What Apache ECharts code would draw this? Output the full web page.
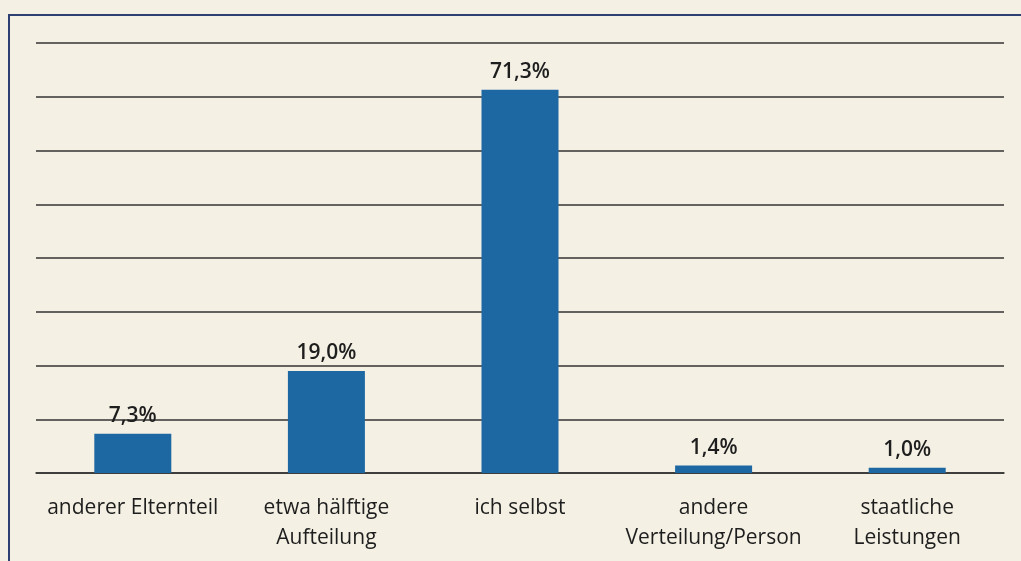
<!DOCTYPE html>
<html>
<head>
<meta charset="utf-8">
<script src="https://cdn.jsdelivr.net/npm/echarts@6/dist/echarts.min.js"></script>
<style>
html, body { margin: 0; padding: 0; background: #f4f0e4; }
#main { width: 1021px; height: 561px; }
</style>
</head>
<body>
<div id="main"></div>
<script>
var categories = ['anderer Elternteil', 'etwa hälftige\nAufteilung', 'ich selbst', 'andere\nVerteilung/Person', 'staatliche\nLeistungen'];
var values = [7.3, 19.0, 71.3, 1.4, 1.0];

var myChart = echarts.init(document.getElementById('main'));

var option = {
    backgroundColor: '#f4f0e4',
    textStyle: { fontFamily: 'Open Sans' },
    graphic: [{
        type: 'polyline',
        shape: { points: [[9, 561], [9, 15], [1021, 15]] },
        style: { stroke: '#2e3f73', lineWidth: 2, fill: null }
    }],
    grid: { left: 36, right: 17, top: 43, bottom: 88 },
    xAxis: {
        type: 'category',
        data: categories,
        axisLine: { lineStyle: { color: '#333', width: 1.5 } },
        axisTick: { show: false },
        axisLabel: { interval: 0, color: '#1e1e1e', fontSize: 21, lineHeight: 30, margin: 20 }
    },
    yAxis: {
        type: 'value',
        min: 0,
        max: 80,
        interval: 10,
        axisLabel: { show: false },
        axisLine: { show: false },
        axisTick: { show: false },
        splitLine: { lineStyle: { color: '#333', width: 1.5 } }
    },
    series: [{
        type: 'bar',
        data: values,
        barWidth: 77,
        itemStyle: { color: '#1d68a3' },
        label: {
            show: true,
            position: 'top',
            distance: 7,
            color: '#1e1e1e',
            fontSize: 21,
            fontWeight: 600,
            formatter: function (p) { return p.value.toFixed(1).replace('.', ',') + '%'; }
        }
    }]
};

myChart.setOption(option);
</script>
</body>
</html>
